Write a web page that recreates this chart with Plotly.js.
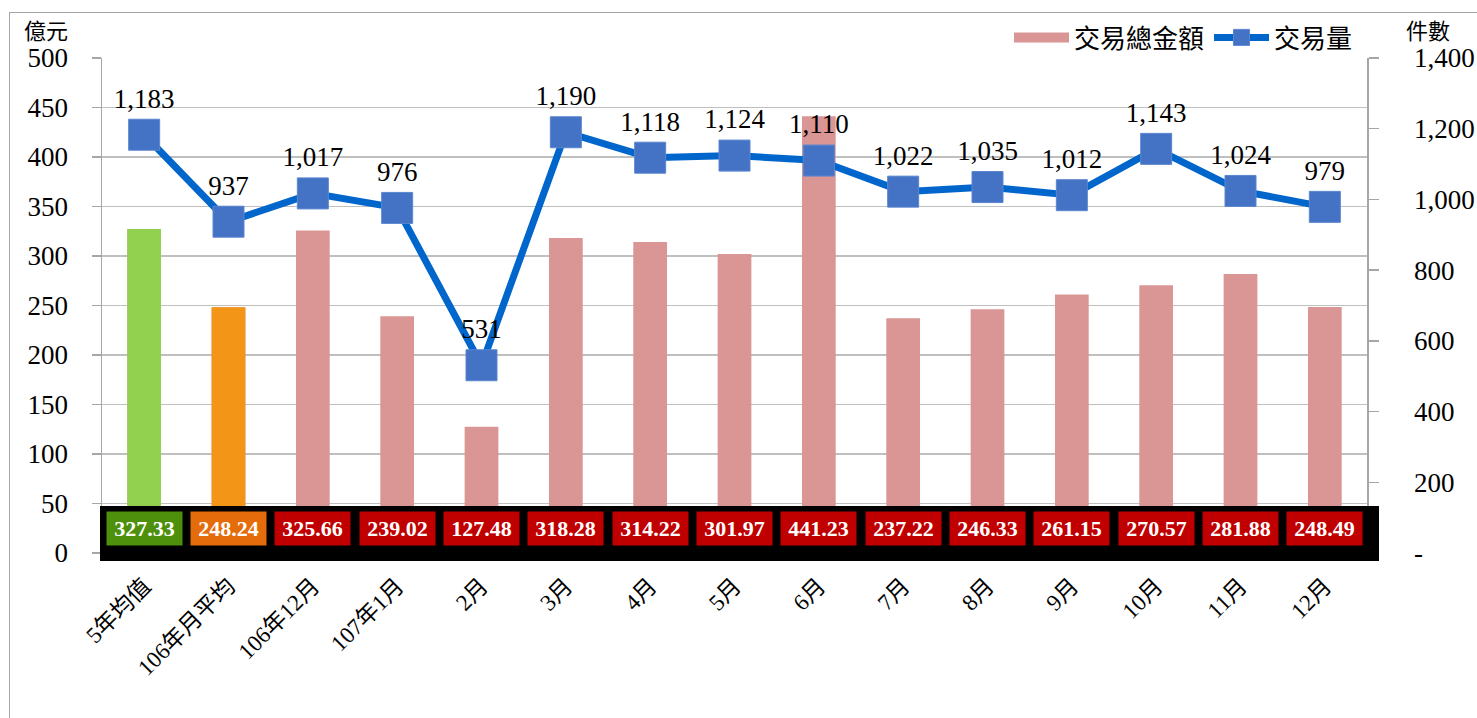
<!DOCTYPE html>
<html>
<head>
<meta charset="utf-8">
<script src="https://cdn.plot.ly/plotly-3.0.1.min.js"></script>
<style>
  html, body { margin: 0; padding: 0; background: #ffffff; }
  #frame { position: absolute; left: 9px; top: 12px; width: 1480px; height: 720px; border: 1.5px solid #a6a6a6; box-sizing: border-box; }
  #chart { position: absolute; left: 0; top: 0; width: 1477px; height: 718px; }
</style>
</head>
<body>
<div id="frame"></div>
<div id="chart"></div>
<script>
// ---- data ----
const categories = ['5年均值', '106年月平均', '106年12月', '107年1月', '2月', '3月', '4月', '5月', '6月', '7月', '8月', '9月', '10月', '11月', '12月'];
const amounts = [327.33, 248.24, 325.66, 239.02, 127.48, 318.28, 314.22, 301.97, 441.23, 237.22, 246.33, 261.15, 270.57, 281.88, 248.49];
const volumes = [1183, 937, 1017, 976, 531, 1190, 1118, 1124, 1110, 1022, 1035, 1012, 1143, 1024, 979];
const leftTicks = [0, 50, 100, 150, 200, 250, 300, 350, 400, 450, 500];
const rightTicks = [0, 200, 400, 600, 800, 1000, 1200, 1400];
const rightTickText = ['-', '200', '400', '600', '800', '1,000', '1,200', '1,400'];

// ---- styles ----
const FONT = '"Liberation Serif", "Times New Roman", "Noto Sans CJK TC", serif';
const CJK = '"Noto Sans CJK TC", "Liberation Serif", serif';
const pink = '#D99694';
const specialBarColors = ['#92D050', '#F39517'];
const labelBoxColors = amounts.map((v, i) => i === 0 ? '#4E8F0B' : (i === 1 ? '#E46C0A' : '#C00000'));

const L = 102, R = 1367, T = 58, B = 553;
const px = x => (x - L) / (R - L);
const py = y => (B - y) / (B - T);

const traces = [
  {
    type: 'bar', name: '交易總金額', x: categories, y: amounts,
    marker: { color: pink }, yaxis: 'y', showlegend: false
  },
  {
    type: 'bar', name: 'special', x: categories.slice(0, 2), y: amounts.slice(0, 2),
    marker: { color: specialBarColors }, yaxis: 'y', showlegend: false
  },
  {
    // legend entry for the bars (wide pink swatch)
    type: 'scatter', mode: 'lines', name: '交易總金額',
    x: [categories[0]], y: [null], yaxis: 'y',
    line: { color: pink, width: 13 }, showlegend: true
  },
  {
    type: 'scatter', mode: 'lines+markers+text', name: '交易量',
    x: categories, y: volumes, yaxis: 'y2',
    text: volumes.map(v => v.toLocaleString('en-US')),
    textposition: 'top center',
    textfont: { family: FONT, size: 27, color: '#000000' },
    line: { color: '#0066CC', width: 7 },
    marker: { symbol: 'square', size: 31, color: '#4472C4', line: { color: '#5b86d0', width: 1 } },
    cliponaxis: false
  }
];

const annotations = amounts.map((v, i) => ({
  x: categories[i], y: 24.7, xref: 'x', yref: 'y',
  text: '<b>' + v.toFixed(2) + '</b>',
  showarrow: false, xanchor: 'center', yanchor: 'middle',
  font: { family: FONT, size: 22, color: '#ffffff' },
  bgcolor: labelBoxColors[i], width: 71, height: 29, borderpad: 2
}));
annotations.push({
  x: px(46), y: py(29), xref: 'paper', yref: 'paper', text: '億元', showarrow: false,
  xanchor: 'center', yanchor: 'middle',
  font: { family: CJK, size: 22, color: '#000' }
});
annotations.push({
  x: px(1428), y: py(29), xref: 'paper', yref: 'paper', text: '件數', showarrow: false,
  xanchor: 'center', yanchor: 'middle',
  font: { family: CJK, size: 22, color: '#000' }
});

const layout = {
  width: 1477, height: 718,
  margin: { l: L, r: 1477 - R, t: T, b: 718 - B, pad: 0 },
  paper_bgcolor: 'rgba(0,0,0,0)', plot_bgcolor: '#ffffff',
  barmode: 'overlay', bargap: 0.6,
  showlegend: true,
  legend: {
    orientation: 'h', x: px(1358), xanchor: 'right', y: py(14), yanchor: 'top',
    font: { family: CJK, size: 26, color: '#000' }, bgcolor: 'rgba(0,0,0,0)',
    traceorder: 'normal', itemwidth: 55
  },
  xaxis: {
    type: 'category', range: [-0.5, 14.5], autorange: false,
    tickangle: -45, showgrid: false, showline: false, zeroline: false,
    ticks: '', tickfont: { family: FONT, size: 23, color: '#000' },
    ticklabelstandoff: 14, fixedrange: true
  },
  yaxis: {
    range: [0, 500], tickvals: leftTicks, ticktext: leftTicks.map(String),
    showgrid: true, gridcolor: '#BFBFBF', gridwidth: 1.3,
    showline: true, linecolor: '#A6A6A6', linewidth: 1.5,
    ticks: 'outside', ticklen: 9, tickcolor: '#A6A6A6', tickwidth: 1.3,
    ticklabelstandoff: 18, zeroline: false,
    tickfont: { family: FONT, size: 27, color: '#000' }
  },
  yaxis2: {
    overlaying: 'y', side: 'right', range: [0, 1400],
    tickvals: rightTicks, ticktext: rightTickText,
    showgrid: false, showline: true, linecolor: '#A6A6A6', linewidth: 1.5,
    ticks: 'outside', ticklen: 10, tickcolor: '#A6A6A6', tickwidth: 1.3,
    ticklabelstandoff: 30, zeroline: false,
    tickfont: { family: FONT, size: 27, color: '#000' }
  },
  shapes: [{
    type: 'rect', xref: 'paper', yref: 'paper', layer: 'above',
    x0: px(100), x1: px(1379), y0: py(561), y1: py(506),
    fillcolor: '#000000', line: { width: 0 }
  }],
  annotations: annotations
};

Plotly.newPlot('chart', traces, layout, { displayModeBar: false, staticPlot: true });
</script>
</body>
</html>
